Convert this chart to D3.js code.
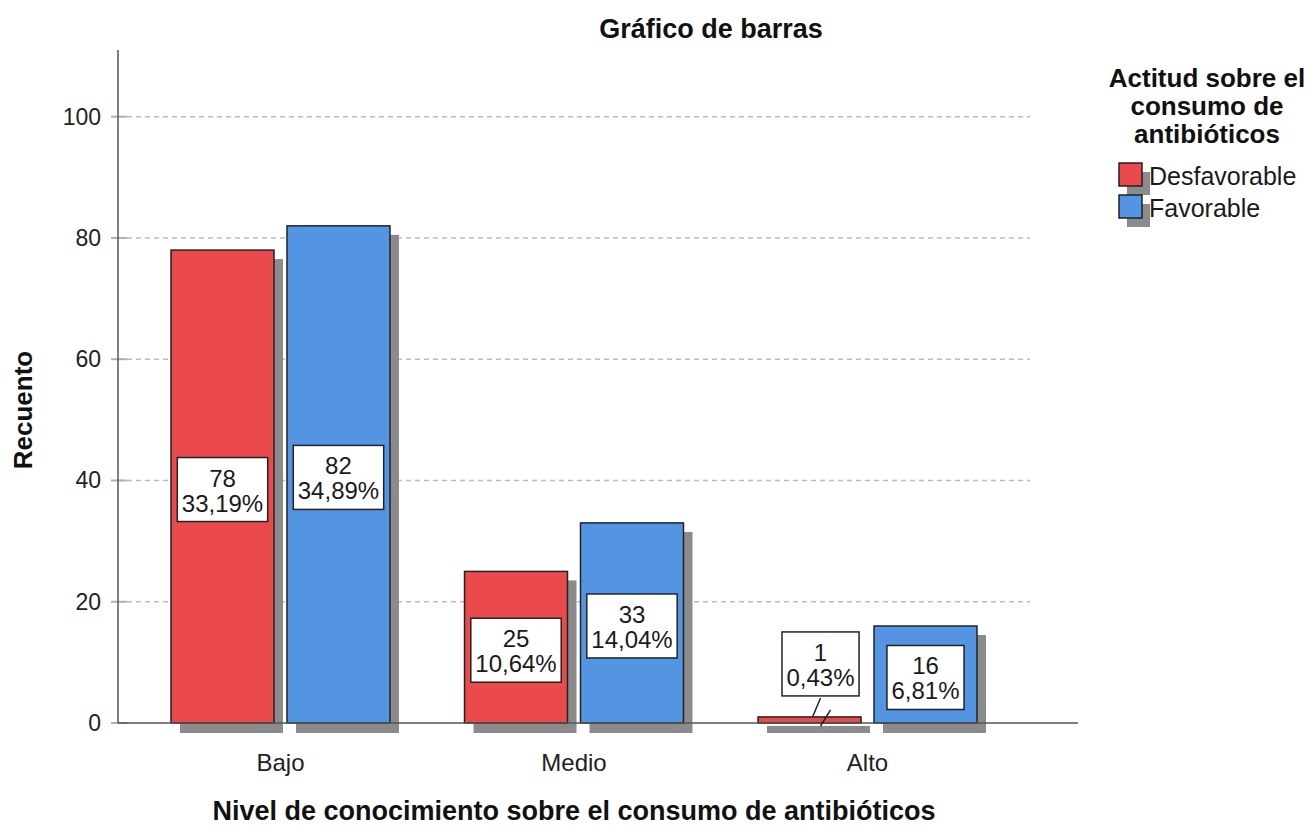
<!DOCTYPE html>
<html>
<head>
<meta charset="utf-8">
<script src="https://cdn.jsdelivr.net/npm/d3@7"></script>
<style>
  html, body { margin: 0; padding: 0; background: #fff; }
  svg { display: block; font-family: "Liberation Sans", Arial, sans-serif; }
</style>
</head>
<body>
<svg id="chart" width="1314" height="828"></svg>
<script>
const categories = ["Bajo", "Medio", "Alto"];
const seriesNames = ["Desfavorable", "Favorable"];
const desfavorable = [78, 25, 1];
const favorable = [82, 33, 16];
const pctDesfavorable = ["33,19%", "10,64%", "0,43%"];
const pctFavorable = ["34,89%", "14,04%", "6,81%"];
const yTicks = [0, 20, 40, 60, 80, 100];
const colors = ["#EA4A4C", "#5495E3"];

const svg = d3.select("#chart");
const plotLeft = 118, plotRight = 1030, axisRight = 1078;
const yTop = 50, yBottom = 723;

const x0 = d3.scaleBand().domain(categories).range([plotLeft, plotRight])
  .paddingInner(0.254).paddingOuter(0.1806);
const x1 = d3.scaleBand().domain(seriesNames).range([0, x0.bandwidth()])
  .paddingInner(0.112).paddingOuter(0);
const y = d3.scaleLinear().domain([0, 111]).range([yBottom, yTop]);
const color = d3.scaleOrdinal().domain(seriesNames).range(colors);

const rows = categories.map((c, i) => ({
  cat: c,
  vals: [
    { s: seriesNames[0], v: desfavorable[i], p: pctDesfavorable[i] },
    { s: seriesNames[1], v: favorable[i], p: pctFavorable[i] }
  ]
}));

// gridlines
svg.append("g").selectAll("line").data(yTicks.filter(d => d > 0)).join("line")
  .attr("x1", plotLeft).attr("x2", plotRight)
  .attr("y1", d => y(d)).attr("y2", d => y(d))
  .attr("stroke", "#bdbdbd").attr("stroke-width", 1.5).attr("stroke-dasharray", "5,4");

// y axis
const yAxis = d3.axisLeft(y).tickValues(yTicks).tickSize(0).tickPadding(17);
const gy = svg.append("g").attr("transform", `translate(${plotLeft},0)`).call(yAxis);
gy.select(".domain").remove();
gy.attr("font-size", null).attr("font-family", null);
gy.selectAll("text").attr("font-size", 23).attr("fill", "#222");
// tick marks
svg.append("g").selectAll("line").data(yTicks).join("line")
  .attr("x1", plotLeft - 7).attr("x2", plotLeft + 9)
  .attr("y1", d => y(d)).attr("y2", d => y(d))
  .attr("stroke", "#b0b0b0").attr("stroke-width", 2);

// bars
const groups = svg.append("g").selectAll("g").data(rows).join("g")
  .attr("transform", d => `translate(${x0(d.cat)},0)`);
// shadows
groups.selectAll("rect.shadow").data(d => d.vals).join("rect")
  .attr("class", "shadow")
  .attr("x", d => x1(d.s) + 9)
  .attr("y", d => y(d.v) + 9)
  .attr("width", x1.bandwidth())
  .attr("height", d => yBottom - y(d.v) + 1)
  .attr("fill", "#8b8b8b");
groups.selectAll("rect.bar").data(d => d.vals).join("rect")
  .attr("class", "bar")
  .attr("x", d => x1(d.s))
  .attr("y", d => y(d.v))
  .attr("width", x1.bandwidth())
  .attr("height", d => yBottom - y(d.v))
  .attr("fill", d => color(d.s))
  .attr("stroke", "#222").attr("stroke-width", 1.5);

// axes lines
svg.append("line").attr("x1", plotLeft).attr("x2", plotLeft)
  .attr("y1", yTop).attr("y2", yBottom)
  .attr("stroke", "#555").attr("stroke-width", 1.5);
svg.append("line").attr("x1", plotLeft).attr("x2", axisRight)
  .attr("y1", yBottom).attr("y2", yBottom)
  .attr("stroke", "#555").attr("stroke-width", 1.5);

// x axis labels
const xAxis = d3.axisBottom(x0).tickSize(0).tickPadding(31);
const gx = svg.append("g").attr("transform", `translate(0,${yBottom})`).call(xAxis);
gx.select(".domain").remove();
gx.attr("font-size", null).attr("font-family", null);
gx.selectAll("text").attr("font-size", 24).attr("fill", "#222");

// value labels
const labelLayer = svg.append("g");
rows.forEach(r => {
  r.vals.forEach(d => {
    const cx = x0(r.cat) + x1(d.s) + x1.bandwidth() / 2;
    const top = y(d.v);
    const barH = yBottom - top;
    const boxH = 64;
    let boxTop, shiftX = 0, outside = false;
    if (barH > boxH + 10) {
      boxTop = (top + yBottom) / 2 + 3 - boxH / 2;
    } else {
      outside = true;
      shiftX = 11;
      boxTop = top - 21 - boxH;
    }
    const g = labelLayer.append("g");
    const rect = g.append("rect");
    const t1 = g.append("text").attr("text-anchor", "middle")
      .attr("x", cx + shiftX).attr("y", boxTop + 29)
      .attr("font-size", 24).attr("fill", "#1a1a1a").text(d.v);
    const t2 = g.append("text").attr("text-anchor", "middle")
      .attr("x", cx + shiftX).attr("y", boxTop + 54)
      .attr("font-size", 24).attr("fill", "#1a1a1a").text(d.p);
    const w = Math.max(t1.node().getComputedTextLength(), t2.node().getComputedTextLength()) + 9;
    rect.attr("x", cx + shiftX - w / 2).attr("y", boxTop)
      .attr("width", w).attr("height", boxH)
      .attr("fill", "#fff").attr("stroke", "#222").attr("stroke-width", 1.5);
    if (outside) {
      g.append("line").attr("x1", cx + 11).attr("y1", boxTop + boxH + 2)
        .attr("x2", cx + 3).attr("y2", top)
        .attr("stroke", "#222").attr("stroke-width", 1.5);
      g.append("line").attr("x1", cx + 21).attr("y1", boxTop + boxH + 14)
        .attr("x2", cx + 11).attr("y2", yBottom + 3)
        .attr("stroke", "#222").attr("stroke-width", 1.5);
    }
  });
});

// title
svg.append("text").attr("x", 711).attr("y", 38).attr("text-anchor", "middle")
  .attr("font-size", 27).attr("font-weight", "bold").attr("fill", "#111")
  .text("Gráfico de barras");
// x title
svg.append("text").attr("x", 574).attr("y", 820).attr("text-anchor", "middle")
  .attr("font-size", 27).attr("font-weight", "bold").attr("fill", "#111")
  .text("Nivel de conocimiento sobre el consumo de antibióticos");
// y title
svg.append("text").attr("transform", "translate(32,410) rotate(-90)")
  .attr("text-anchor", "middle")
  .attr("font-size", 26).attr("font-weight", "bold").attr("fill", "#111")
  .text("Recuento");

// legend
const legendTitle = ["Actitud sobre el", "consumo de", "antibióticos"];
svg.append("g").selectAll("text").data(legendTitle).join("text")
  .attr("x", 1207).attr("y", (d, i) => 87 + i * 28)
  .attr("text-anchor", "middle").attr("font-size", 26).attr("font-weight", "bold")
  .attr("fill", "#111").text(d => d);
const leg = svg.append("g").selectAll("g").data(seriesNames).join("g")
  .attr("transform", (d, i) => `translate(1119,${163 + i * 32})`);
leg.append("rect").attr("x", 8).attr("y", 9).attr("width", 23).attr("height", 23)
  .attr("fill", "#8b8b8b");
leg.append("rect").attr("x", 0).attr("y", 0).attr("width", 23).attr("height", 23)
  .attr("fill", d => color(d)).attr("stroke", "#222").attr("stroke-width", 1.5);
leg.append("text").attr("x", 30).attr("y", 22).attr("font-size", 25)
  .attr("fill", "#1a1a1a").text(d => d);
</script>
</body>
</html>
